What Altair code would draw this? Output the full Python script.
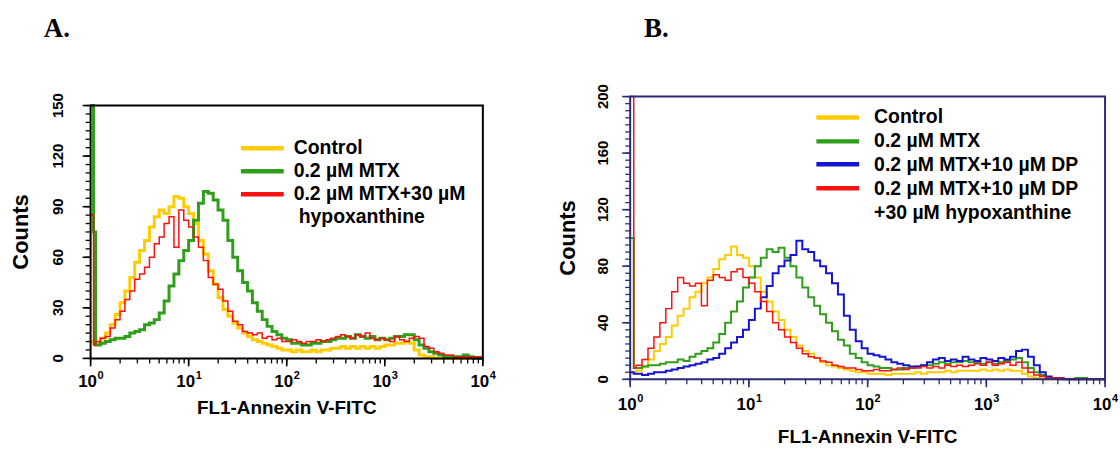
import altair as alt
import pandas as pd

# ---------------- data ----------------
# position along the FL1 axis, in decades (10**d is the FL1 intensity)
DECADES = [0.00, 0.03,
    0.05, 0.10, 0.15, 0.20, 0.25, 0.30, 0.35, 0.40, 0.45, 0.50,
    0.55, 0.60, 0.65, 0.70, 0.75, 0.80, 0.85, 0.90, 0.95, 1.00,
    1.05, 1.10, 1.15, 1.20, 1.25, 1.30, 1.35, 1.40, 1.45, 1.50,
    1.55, 1.60, 1.65, 1.70, 1.75, 1.80, 1.85, 1.90, 1.95, 2.00,
    2.05, 2.10, 2.15, 2.20, 2.25, 2.30, 2.35, 2.40, 2.45, 2.50,
    2.55, 2.60, 2.65, 2.70, 2.75, 2.80, 2.85, 2.90, 2.95, 3.00,
    3.05, 3.10, 3.15, 3.20, 3.25, 3.30, 3.35, 3.40, 3.45, 3.50,
    3.55, 3.60, 3.65, 3.70, 3.75, 3.80, 3.85, 3.90, 3.95, 4.00]

# Panel A
A_CONTROL = [10, 10,
    9, 12, 15, 20, 26, 33, 40, 48, 57, 64,
    70, 78, 84, 88, 86, 90, 96, 95, 90, 86,
    80, 70, 62, 52, 44, 36, 29, 25, 21, 18,
    15, 13, 11, 10, 9, 8, 7, 6, 5, 5,
    4, 5, 4, 4, 5, 4, 5, 5, 6, 6,
    7, 6, 7, 6, 7, 6, 7, 6, 7, 8,
    8, 9, 9, 10, 9, 5, 2, 1, 1, 0,
    0, 0, 0, 0, 0, 0, 0, 0, 0, 0]
A_MTX = [300, 75,
    8, 9, 10, 11, 12, 12, 13, 15, 16, 17,
    20, 21, 23, 27, 34, 43, 50, 58, 64, 70,
    82, 92, 99, 98, 94, 88, 82, 70, 60, 52,
    45, 40, 33, 28, 23, 19, 16, 14, 12, 11,
    9, 9, 8, 8, 9, 9, 10, 10, 11, 12,
    12, 13, 12, 14, 13, 12, 13, 11, 12, 11,
    12, 13, 13, 14, 14, 11, 8, 6, 4, 3,
    2, 1, 1, 1, 1, 2, 1, 0, 0, 0]
A_HYPO = [85, 8,
    10, 12, 13, 18, 23, 28, 35, 40, 47, 50,
    54, 60, 68, 72, 80, 84, 66, 88, 82, 78,
    72, 66, 58, 48, 44, 41, 34, 28, 22, 20,
    16, 15, 14, 15, 12, 13, 11, 12, 10, 10,
    11, 10, 9, 10, 10, 11, 10, 11, 12, 13,
    14, 13, 12, 14, 13, 15, 12, 11, 12, 11,
    10, 13, 11, 10, 12, 13, 12, 7, 6, 4,
    3, 2, 2, 1, 1, 1, 1, 1, 1, 1]

# Panel B
B_CONTROL = [5, 5,
    6, 9, 14, 20, 25, 30, 38, 45, 50, 58,
    62, 68, 72, 78, 85, 88, 94, 88, 86, 80,
    72, 62, 55, 48, 42, 35, 30, 24, 20, 18,
    15, 12, 10, 9, 8, 7, 6, 5, 5, 4,
    4, 4, 3, 4, 4, 4, 4, 5, 4, 5,
    5, 5, 6, 5, 6, 6, 6, 6, 7, 6,
    7, 6, 7, 6, 6, 4, 2, 1, 0, 0,
    0, 0, 0, 0, 0, 0, 0, 0, 0, 0]
B_MTX = [100, 8,
    8, 9, 10, 10, 11, 12, 12, 14, 13, 16,
    18, 20, 22, 26, 32, 40, 48, 55, 65, 72,
    80, 86, 92, 90, 93, 86, 80, 72, 65, 58,
    52, 46, 40, 34, 28, 24, 18, 15, 12, 10,
    9, 8, 8, 7, 7, 8, 8, 9, 10, 10,
    11, 12, 11, 12, 12, 13, 12, 12, 11, 12,
    11, 12, 13, 14, 15, 12, 8, 5, 3, 1,
    1, 0, 0, 0, 1, 1, 0, 0, 0, 0]
B_DP = [5, 4,
    4, 3, 4, 5, 5, 6, 7, 8, 9, 10,
    11, 12, 14, 15, 18, 22, 26, 30, 35, 42,
    50, 58, 66, 75, 80, 84, 88, 98, 92, 90,
    84, 80, 75, 68, 60, 45, 35, 27, 22, 18,
    17, 16, 14, 12, 11, 10, 9, 9, 10, 12,
    14, 15, 13, 14, 13, 16, 14, 13, 15, 14,
    13, 15, 14, 16, 20, 21, 16, 10, 5, 2,
    1, 1, 0, 0, 0, 0, 0, 0, 0, 0]
B_HYPO = [300, 8,
    10, 14, 22, 30, 40, 50, 62, 72, 68, 66,
    68, 52, 70, 74, 72, 70, 76, 78, 72, 68,
    62, 55, 48, 40, 35, 30, 26, 22, 18, 16,
    15, 13, 12, 10, 9, 8, 8, 7, 6, 6,
    7, 6, 6, 7, 8, 7, 8, 8, 9, 8,
    9, 8, 10, 9, 10, 9, 10, 11, 10, 12,
    10, 11, 12, 10, 12, 8, 5, 3, 2, 1,
    1, 1, 0, 0, 0, 0, 0, 0, 0, 0]

LEGEND_A = ["Control", "0.2 µM MTX", "0.2 µM MTX+30 µM", "hypoxanthine"]
LEGEND_B = ["Control", "0.2 µM MTX", "0.2 µM MTX+10 µM DP",
            "0.2 µM MTX+10 µM DP", "+30 µM hypoxanthine"]
X_MAJOR = [1, 10, 100, 1000, 10000]
X_EXP = ["0", "1", "2", "3", "4"]
A_Y_MAJOR = [0, 30, 60, 90, 120, 150]
B_Y_MAJOR = [0, 40, 80, 120, 160, 200]
X_TITLE = "FL1-Annexin V-FITC"
Y_TITLE = "Counts"

# ---------------- style ----------------
FONT = "Liberation Sans"
YELLOW = "#ffcc00"
GREEN = "#2f9e1a"
RED = "#ff1010"
BLUE = "#1414d2"
NAVY = "#2a2a78"
PANEL_W = 560
PANEL_H = 449

X_MINOR = [m * 10 ** k for k in range(4) for m in range(1, 10)] + [10000]
ONE = pd.DataFrame({"k": [0]})


def series(vals):
    return pd.DataFrame({"x": [10 ** d for d in DECADES], "y": vals})


def text_at(txt, x, y, size, angle=0, align="center", baseline="alphabetic",
            font=FONT, dx=0):
    kw = dict(text=txt, font=font, fontSize=size, fontWeight="bold", align=align,
              baseline=baseline, color="black", dx=dx)
    if angle:
        kw["angle"] = angle
    return alt.Chart(ONE).mark_text(**kw).encode(x=alt.value(x), y=alt.value(y))


def panel(x0, xr, yr, ymax, ymajor, series_list, axis_color,
          legend_x, legend_rows, legend_texts, legend_text_x, legend_colors,
          letter, letter_x, xlab_base, xtitle_base, ylab_x, ytitle_x):
    left, right = xr[0] - x0, xr[1] - x0
    bottom, top = yr
    xs = alt.Scale(type="log", domain=[1, 10000], range=[left, right], nice=False)
    ys = alt.Scale(domain=[0, ymax], range=[bottom, top], clamp=True, nice=False, zero=True)
    X = lambda f="x": alt.X(f"{f}:Q", scale=xs, axis=None)
    Y = lambda f="y": alt.Y(f"{f}:Q", scale=ys, axis=None)

    layers = []
    for vals, color, width in series_list:
        layers.append(alt.Chart(series(vals)).mark_line(
            interpolate="step-after", color=color, strokeWidth=width).encode(x=X(), y=Y()))

    # x ticks (minor + major) through the x scale
    layers.append(alt.Chart(pd.DataFrame({"x": X_MINOR})).mark_rule(
        color=axis_color, strokeWidth=1.3).encode(
        x=X(), y=alt.value(bottom), y2=alt.value(bottom + 5)))
    layers.append(alt.Chart(pd.DataFrame({"x": X_MAJOR})).mark_rule(
        color=axis_color, strokeWidth=1.6).encode(
        x=X(), y=alt.value(bottom), y2=alt.value(bottom + 8)))
    # x labels: 10 with superscript exponent
    xl = pd.DataFrame({"x": X_MAJOR, "exp": X_EXP})
    layers.append(alt.Chart(xl).mark_text(
        text="10", font=FONT, fontSize=17, fontWeight="bold", align="center",
        baseline="alphabetic", color="black", dx=-3).encode(
        x=X(), y=alt.value(bottom + xlab_base)))
    layers.append(alt.Chart(xl).mark_text(
        font=FONT, fontSize=11, fontWeight="bold", align="left",
        baseline="alphabetic", color="black", dx=7).encode(
        x=X(), y=alt.value(bottom + xlab_base - 8), text="exp:N"))

    # y ticks (every 5, major longer) through the y scale
    layers.append(alt.Chart(pd.DataFrame({"y": list(range(0, ymax + 1, 5))})).mark_rule(
        color=axis_color, strokeWidth=1.3).encode(
        y=Y(), x=alt.value(left - 5), x2=alt.value(left)))
    layers.append(alt.Chart(pd.DataFrame({"y": ymajor})).mark_rule(
        color=axis_color, strokeWidth=1.6).encode(
        y=Y(), x=alt.value(left - 8), x2=alt.value(left)))
    yl = pd.DataFrame({"y": ymajor, "lab": [str(v) for v in ymajor]})
    layers.append(alt.Chart(yl).mark_text(
        font=FONT, fontSize=15, fontWeight="bold", align="center", baseline="middle",
        angle=270, color="black").encode(
        y=Y(), x=alt.value(ylab_x - x0), text="lab:N"))

    # frame
    layers.append(alt.Chart(pd.DataFrame({"x": [1], "x2": [10000], "y": [0], "y2": [ymax]}))
                  .mark_rect(fill="white", fillOpacity=0, stroke=axis_color, strokeWidth=2)
                  .encode(x=X(), x2="x2:Q", y=Y(), y2="y2:Q"))

    # axis titles
    layers.append(text_at(X_TITLE, (left + right) / 2, xtitle_base, 19))
    layers.append(text_at(Y_TITLE, ytitle_x - x0, (top + bottom) / 2, 22,
                          angle=270, baseline="middle"))

    # legend
    for row_y, color in zip(legend_rows, legend_colors):
        layers.append(alt.Chart(ONE).mark_rule(color=color, strokeWidth=4.5).encode(
            x=alt.value(legend_x[0] - x0), x2=alt.value(legend_x[1] - x0),
            y=alt.value(row_y)))
    step = legend_rows[1] - legend_rows[0]
    for i, txt in enumerate(legend_texts):
        dx = legend_text_x[1] if txt == "hypoxanthine" else 0
        layers.append(text_at(txt, legend_text_x[0] - x0, legend_rows[0] + i * step, 19.5,
                              align="left", baseline="middle", dx=dx))
    # panel letter
    layers.append(text_at(letter, letter_x - x0, 36, 27, align="left",
                          font="Liberation Serif"))
    return alt.layer(*layers).properties(width=PANEL_W, height=PANEL_H)


panel_a = panel(
    x0=0, xr=(91, 485), yr=(359, 105), ymax=150, ymajor=A_Y_MAJOR,
    series_list=[(A_CONTROL, YELLOW, 3), (A_MTX, GREEN, 3), (A_HYPO, RED, 1.5)],
    axis_color="black",
    legend_x=(242, 285), legend_rows=[148, 171, 194],
    legend_texts=LEGEND_A, legend_text_x=(295, 5),
    legend_colors=[YELLOW, GREEN, RED],
    letter="A.", letter_x=44, xlab_base=29, xtitle_base=415,
    ylab_x=58, ytitle_x=21)

panel_b = panel(
    x0=560, xr=(628, 1105), yr=(380, 96), ymax=200, ymajor=B_Y_MAJOR,
    series_list=[(B_CONTROL, YELLOW, 2), (B_MTX, GREEN, 2), (B_DP, BLUE, 2),
                 (B_HYPO, RED, 1.5)],
    axis_color=NAVY,
    legend_x=(815, 858), legend_rows=[117, 141, 164, 188],
    legend_texts=LEGEND_B, legend_text_x=(873, 0),
    legend_colors=[YELLOW, GREEN, BLUE, RED],
    letter="B.", letter_x=642, xlab_base=31, xtitle_base=444,
    ylab_x=601, ytitle_x=566)

chart = alt.hconcat(panel_a, panel_b, spacing=0).properties(
    padding=0, background="white"
).configure_view(stroke=None)

chart.save("out.html", embed_options={"renderer": "svg", "actions": False})
